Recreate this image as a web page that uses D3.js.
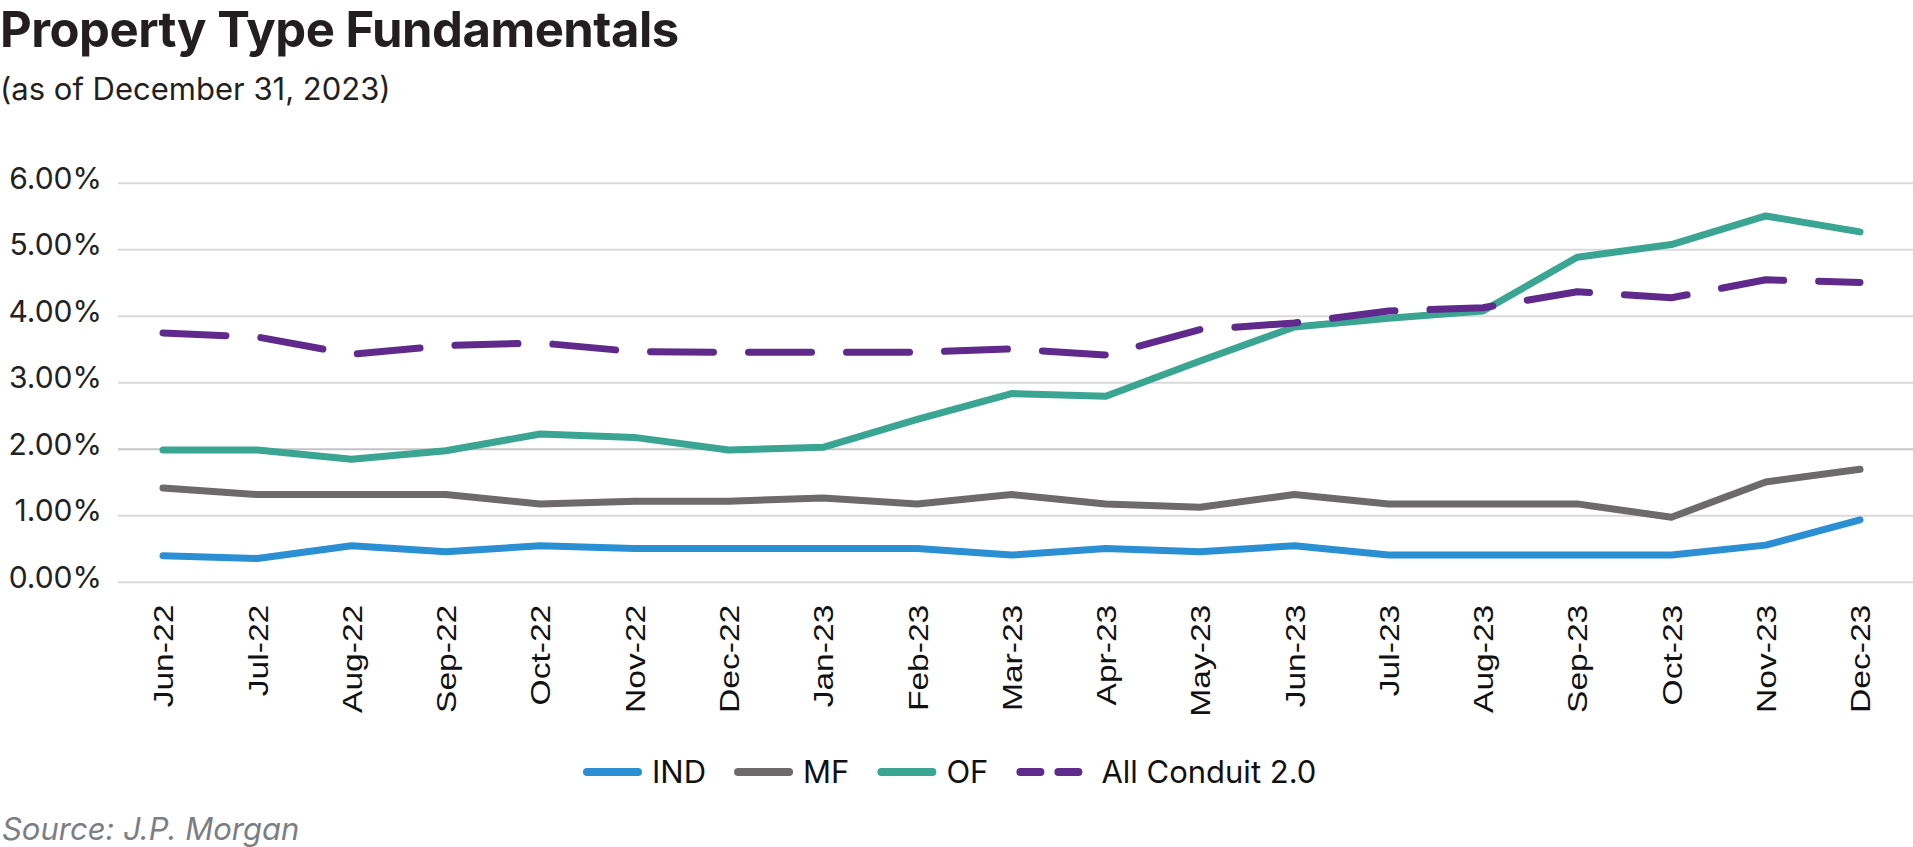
<!DOCTYPE html>
<html>
<head>
<meta charset="utf-8">
<script src="https://cdn.jsdelivr.net/npm/d3@7"></script>
<style>
  body { margin: 0; background: #fff; }
  svg { display: block; }
</style>
</head>
<body>
<div class="chart"></div>
<script>
// data
let months = ["Jun-22","Jul-22","Aug-22","Sep-22","Oct-22","Nov-22","Dec-22","Jan-23","Feb-23","Mar-23",
  "Apr-23","May-23","Jun-23","Jul-23","Aug-23","Sep-23","Oct-23","Nov-23","Dec-23"];
let ind = [0.39,0.35,0.54,0.45,0.54,0.50,0.50,0.50,0.50,0.40,0.50,0.45,0.54,0.40,0.40,0.40,0.40,0.55,0.93];
let mf  = [1.41,1.31,1.31,1.31,1.17,1.21,1.21,1.26,1.17,1.31,1.17,1.12,1.31,1.17,1.17,1.17,0.97,1.50,1.69];
let of  = [1.98,1.98,1.84,1.97,2.22,2.17,1.98,2.02,2.44,2.83,2.79,3.32,3.83,3.96,4.07,4.88,5.07,5.50,5.26];
let allConduit = [3.74,3.68,3.42,3.55,3.59,3.46,3.45,3.45,3.45,3.50,3.41,3.79,3.89,4.07,4.12,4.36,4.27,4.54,4.50];
let yTicks = [0,1,2,3,4,5,6];

let series = [
  {name: "IND", values: ind, color: "#2b8fd3", dash: null},
  {name: "MF", values: mf, color: "#6c6a6a", dash: null},
  {name: "OF", values: of, color: "#3aa592", dash: null},
  {name: "All Conduit 2.0", values: allConduit, color: "#5f2a8b", dash: "63,35"}
];

let width = 1913, height = 847;
let plotLeft = 118, plotRight = 1913;
let plotTop = 182.7, plotBottom = 581.7;

let svg = d3.select(".chart").append("svg")
  .attr("width", width)
  .attr("height", height);

// titles
svg.append("text")
  .attr("x", 0).attr("y", 47)
  .style("font-family", "Inter")
  .style("font-weight", 700)
  .style("font-size", "49px")
  .style("letter-spacing", "-0.5px")
  .style("fill", "#231f20")
  .text("Property Type Fundamentals");

svg.append("text")
  .attr("x", 0).attr("y", 100)
  .style("font-family", "Inter")
  .style("font-size", "31px")
  .style("fill", "#231f20")
  .text("(as of December 31, 2023)");

let xScale = d3.scalePoint().domain(months).range([163, 1860]);
let yScale = d3.scaleLinear().domain([0, 6]).range([plotBottom, plotTop]);

// y axis + gridlines
let yAxis = d3.axisLeft(yScale)
  .tickValues(yTicks)
  .tickFormat(d => d.toFixed(2) + "%")
  .tickSize(-(plotRight - plotLeft))
  .tickPadding(16);

let yg = svg.append("g")
  .attr("transform", "translate(" + plotLeft + ",0)")
  .call(yAxis);
yg.select(".domain").remove();
yg.selectAll(".tick line")
  .attr("stroke", d => d === 2 ? "#c4c4c4" : "#dadada")
  .attr("stroke-width", 2);
yg.selectAll(".tick text")
  .attr("y", -4)
  .style("font-family", "Inter")
  .style("font-size", "30px")
  .style("fill", "#222");

// x axis
let xAxis = d3.axisBottom(xScale).tickSize(0);
let xg = svg.append("g")
  .attr("transform", "translate(0," + plotBottom + ")")
  .call(xAxis);
xg.select(".domain").remove();
xg.selectAll(".tick text")
  .attr("x", 0).attr("y", 0).attr("dy", "0.35em")
  .attr("transform", "translate(0,23) rotate(-90) scale(1.2,1)")
  .style("text-anchor", "end")
  .style("font-family", "'Liberation Sans', Arial, sans-serif")
  .style("font-size", "28px")
  .style("fill", "#111");

// lines
let line = d3.line()
  .x((d, i) => xScale(months[i]))
  .y(d => yScale(d));

svg.selectAll(".series")
  .data(series)
  .enter().append("path")
  .attr("class", "series")
  .attr("d", d => line(d.values))
  .attr("fill", "none")
  .attr("stroke", d => d.color)
  .attr("stroke-width", 7)
  .attr("stroke-linejoin", "round")
  .attr("stroke-linecap", "round")
  .attr("stroke-dasharray", d => d.dash);

// legend
let legend = svg.append("g").attr("class", "legend");
let lx = 583, ly = 772;
series.forEach(function(s) {
  let g = legend.append("g");
  if (s.dash) {
    g.append("line")
      .attr("x1", lx + 4).attr("x2", lx + 62)
      .attr("y1", ly).attr("y2", ly)
      .attr("stroke", s.color).attr("stroke-width", 8)
      .attr("stroke-linecap", "round")
      .attr("stroke-dasharray", "20,18");
  } else {
    g.append("line")
      .attr("x1", lx + 4).attr("x2", lx + 55)
      .attr("y1", ly).attr("y2", ly)
      .attr("stroke", s.color).attr("stroke-width", 8)
      .attr("stroke-linecap", "round");
  }
  let tx = lx + (s.dash ? 85 : 69);
  let t = g.append("text")
    .attr("x", tx).attr("y", 783)
    .style("font-family", "Inter")
    .style("font-size", "31px")
    .style("fill", "#111")
    .text(s.name);
  lx = tx + t.node().getComputedTextLength() + 28;
});

svg.append("text")
  .attr("x", 2).attr("y", 840)
  .style("font-family", "Inter")
  .style("font-style", "italic")
  .style("font-size", "31px")
  .style("fill", "#7b7e84")
  .text("Source: J.P. Morgan");
</script>
</body>
</html>
